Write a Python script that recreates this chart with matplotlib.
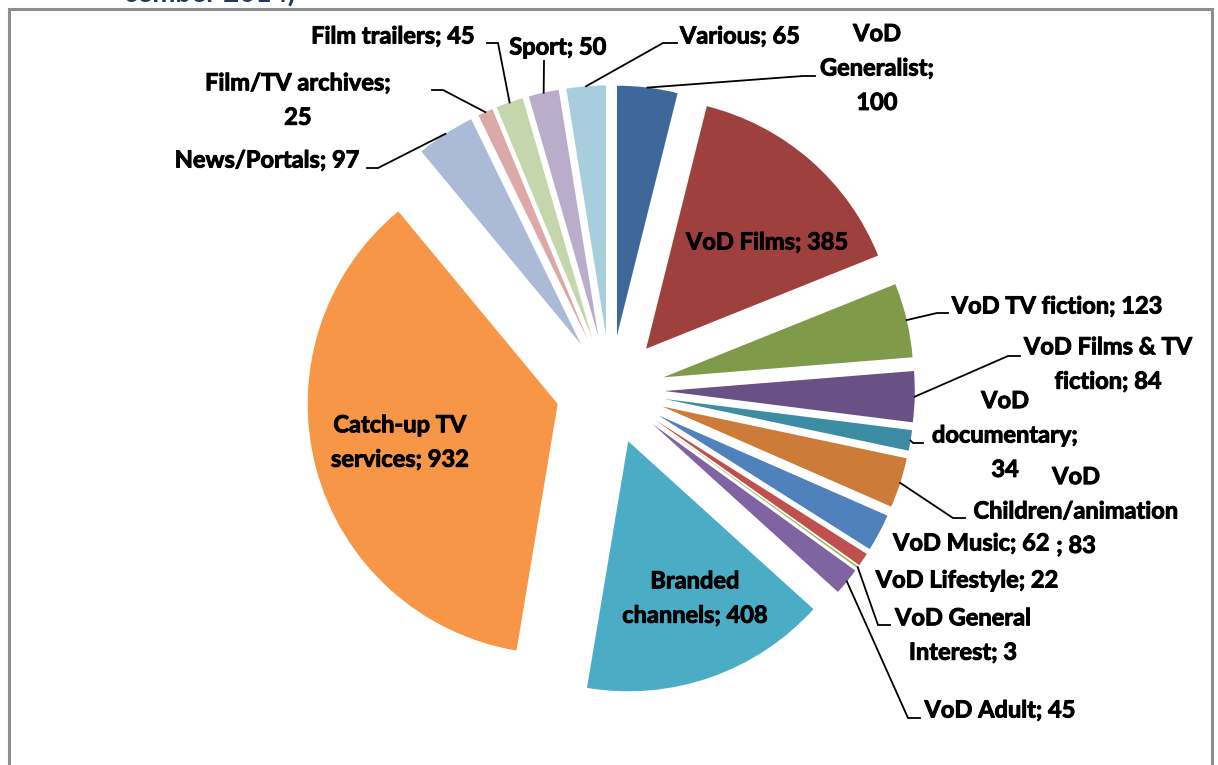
import matplotlib
matplotlib.use("Agg")
import matplotlib.pyplot as plt
from matplotlib.patches import Rectangle
import matplotlib.patheffects as pe
import math

# data, clockwise from 12 o'clock
categories = ["VoD Generalist", "VoD Films", "VoD TV fiction", "VoD Films & TV fiction",
              "VoD documentary", "VoD Children/animation", "VoD Music", "VoD Lifestyle",
              "VoD General Interest", "VoD Adult", "Branded channels", "Catch-up TV services",
              "News/Portals", "Film/TV archives", "Film trailers", "Sport", "Various"]
values = [100, 385, 123, 84, 34, 83, 62, 22, 3, 45, 408, 932, 97, 25, 45, 50, 65]
colors = ["#3F689A", "#9E413E", "#7F9A48", "#695185", "#3C8DA3", "#CC7B38", "#4F81BD",
          "#C0504D", "#9BBB59", "#8064A2", "#4BACC6", "#F79646", "#AABAD7", "#DBA9A8",
          "#C6D6AC", "#B9ADCB", "#A8CEDD"]

# label texts as Excel wrapped them
label_text = ["VoD\nGeneralist;\n100", "VoD Films; 385", "VoD TV fiction; 123",
              "VoD Films & TV\nfiction; 84", "VoD\ndocumentary;\n34",
              "VoD\nChildren/animation\n; 83", "VoD Music; 62", "VoD Lifestyle; 22",
              "VoD General\nInterest; 3", "VoD Adult; 45", "Branded\nchannels; 408",
              "Catch-up TV\nservices; 932", "News/Portals; 97", "Film/TV archives;\n25",
              "Film trailers; 45", "Sport; 50", "Various; 65"]

W, H = 1218, 765

# label layout in pixel coords (x, y from top, ha)
label_pos = [(877, 68, "center"), (767, 242, "center"), (1057, 306, "center"),
             (1108, 364, "center"), (1005, 435, "center"), (1076, 511, "center"),
             (893, 543, "left"), (967, 580, "center"), (963, 635, "center"),
             (1000, 710, "center"), (695, 598, "center"), (400, 442, "center"),
             (267, 160, "center"), (298, 100, "center"), (393, 36, "center"),
             (558, 47, "center"), (740, 36, "center")]
# leader lines: elbow and end (pixel), None = no leader
leaders = [((803, 76), (815, 76)), None, ((937, 313), (948, 313)),
           ((1008, 356), (1020, 356)), ((913, 443), (923, 443)),
           ((953, 518), (965, 518)), None, None, ((878, 625), (890, 625)),
           ((908, 718), (920, 718)), None, None, ((378, 168), (367, 168)),
           ((443, 90), (432, 90)), ((498, 43), (487, 43)), ((544, 61), (544, 61)),
           ((663, 43), (677, 43))]

FONT = "Lato"
FS = 17
heavy = [pe.withStroke(linewidth=0.7, foreground="black")]

fig = plt.figure(figsize=(W / 100, H / 100), dpi=100)
ax = fig.add_axes([0, 0, 1, 1])

R = 250
cx, cy = 610.3, H - 389.8
wedges, _ = ax.pie(values, colors=colors, startangle=90, counterclock=False,
                   explode=[54.5] * len(values), radius=R, center=(cx, cy),
                   wedgeprops=dict(linewidth=0))

ax.set_xlim(0, W)
ax.set_ylim(0, H)
ax.set_aspect("equal")
ax.axis("off")

for i, w in enumerate(wedges):
    x, y, ha = label_pos[i]
    ax.text(x, H - y, label_text[i], ha=ha, va="center", fontsize=FS,
            fontweight="bold", family=FONT, linespacing=1.6, color="black",
            path_effects=heavy)
    if leaders[i] is not None:
        th = math.radians((w.theta1 + w.theta2) / 2)
        sx = w.center[0] + w.r * math.cos(th)
        sy = w.center[1] + w.r * math.sin(th)
        (ex, ey), (fx, fy) = leaders[i]
        ax.plot([sx, ex, fx], [sy, H - ey, H - fy], color="black", lw=1.3,
                solid_joinstyle="miter")

# chart border (bottom edge is below the crop)
ax.add_patch(Rectangle((8.5, -20), 1212 - 8.5, H - 9 + 20, fill=False,
                       edgecolor="#8E8E8E", lw=2.2, clip_on=False))

# cropped caption above the chart
ax.text(124, H - 2, "cember 2014)", ha="left", va="baseline", fontsize=20,
        fontweight="bold", family=FONT, color="#1F3A60")

fig.savefig("out.png", dpi=100)
